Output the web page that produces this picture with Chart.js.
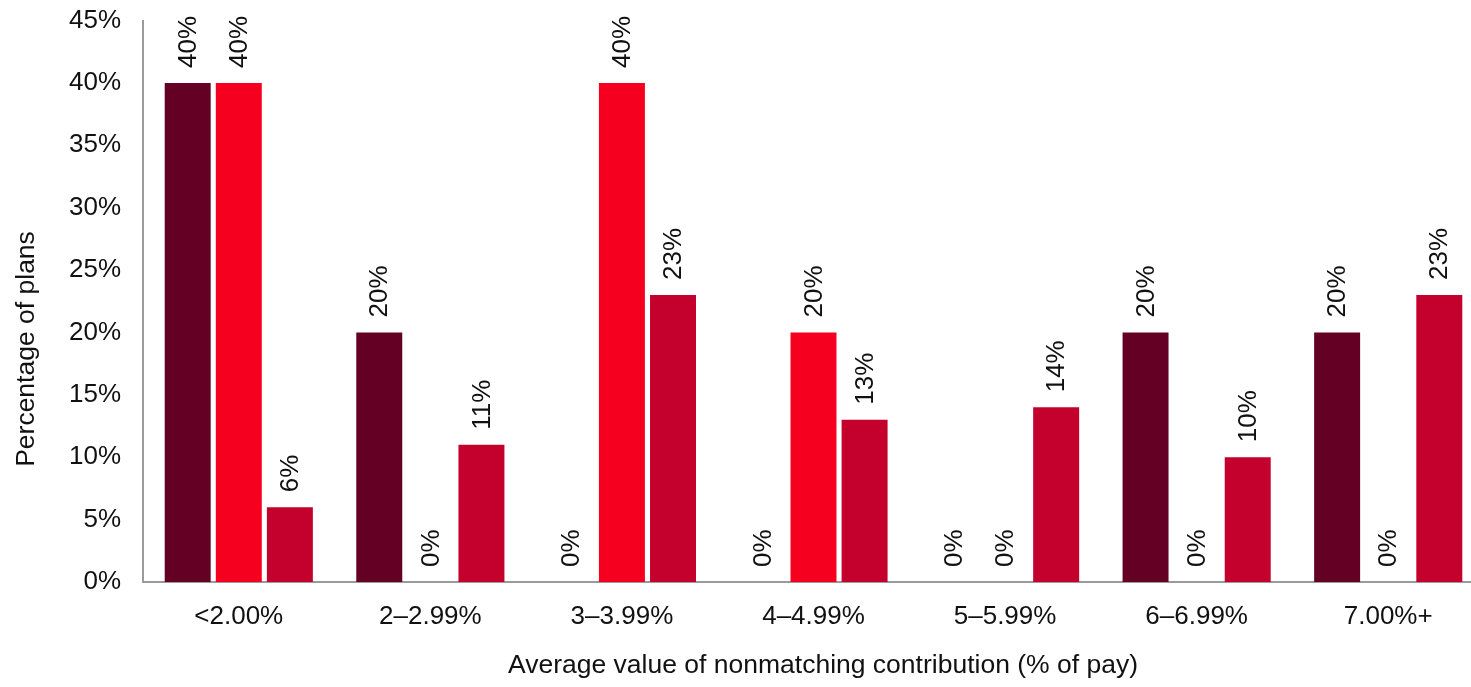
<!DOCTYPE html>
<html>
<head>
<meta charset="utf-8">
<script src="https://cdn.jsdelivr.net/npm/chart.js@4"></script>
<style>
html,body{margin:0;padding:0;background:#fff;overflow:hidden;}
#wrap{width:1490px;height:687px;}
</style>
</head>
<body>
<div id="wrap"><canvas id="c" width="1490" height="687"></canvas></div>
<script>
const categories = ['<2.00%', '2–2.99%', '3–3.99%', '4–4.99%', '5–5.99%', '6–6.99%', '7.00%+'];
const seriesNames = ['Series 1', 'Series 2', 'Series 3'];
const series1 = [40, 20, 0, 0, 0, 20, 20];
const series2 = [40, 0, 40, 20, 0, 0, 0];
const series3 = [6, 11, 23, 13, 14, 10, 23];
const seriesColors = ['#650025', '#f5001f', '#c4002d'];
const yTicks = [0, 5, 10, 15, 20, 25, 30, 35, 40, 45];
const xTitle = 'Average value of nonmatching contribution (% of pay)';
const yTitle = 'Percentage of plans';

const FONT = '"Liberation Sans", Arial, Helvetica, sans-serif';
const FS = 26;
const FS_TITLE = 26.5;

const labelPlugin = {
  id: 'barLabels',
  afterDatasetsDraw(chart) {
    const ctx = chart.ctx;
    ctx.save();
    ctx.font = FS + 'px ' + FONT;
    ctx.fillStyle = '#111';
    ctx.textAlign = 'left';
    ctx.textBaseline = 'middle';
    chart.data.datasets.forEach((ds, i) => {
      const meta = chart.getDatasetMeta(i);
      meta.data.forEach((el, j) => {
        ctx.save();
        ctx.translate(el.x + 1, el.y - 15);
        ctx.rotate(-Math.PI / 2);
        ctx.fillText(ds.data[j] + '%', 0, 0);
        ctx.restore();
      });
    });
    ctx.restore();
  }
};

const titlesPlugin = {
  id: 'axisTitles',
  afterDraw(chart) {
    const ctx = chart.ctx;
    ctx.save();
    ctx.font = FS_TITLE + 'px ' + FONT;
    ctx.fillStyle = '#111';
    ctx.textAlign = 'center';
    ctx.textBaseline = 'middle';
    ctx.fillText(xTitle, 823, 666);
    ctx.translate(27, 349);
    ctx.rotate(-Math.PI / 2);
    ctx.fillText(yTitle, 0, 0);
    ctx.restore();
  }
};

new Chart(document.getElementById('c'), {
  type: 'bar',
  data: {
    labels: categories,
    datasets: [series1, series2, series3].map((d, i) => ({
      label: seriesNames[i],
      data: d,
      backgroundColor: seriesColors[i],
      borderWidth: 0,
      categoryPercentage: 0.8,
      barPercentage: 0.9
    }))
  },
  options: {
    responsive: false,
    animation: false,
    layout: { padding: { left: 0, right: 6, top: 20.5, bottom: 0 } },
    plugins: {
      legend: { display: false },
      tooltip: { enabled: false }
    },
    scales: {
      x: {
        grid: { display: false, drawTicks: false },
        border: { display: true, color: '#9a9a9a', width: 2 },
        ticks: { color: '#111', font: { size: FS, family: FONT }, padding: 19, maxRotation: 0 },
        afterFit(scale) { scale.height = 105; scale.paddingLeft = 0; scale.paddingRight = 0; }
      },
      y: {
        min: 0,
        max: 45,
        grid: { display: false, drawTicks: false },
        border: { display: true, color: '#9a9a9a', width: 2 },
        afterBuildTicks(scale) { scale.ticks = yTicks.map(v => ({ value: v })); },
        ticks: { color: '#111', font: { size: FS, family: FONT }, padding: 22, callback: v => v + '%' },
        afterFit(scale) { scale.width = 143; scale.paddingTop = 0; scale.paddingBottom = 0; }
      }
    }
  },
  plugins: [labelPlugin, titlesPlugin]
});
</script>
</body>
</html>
